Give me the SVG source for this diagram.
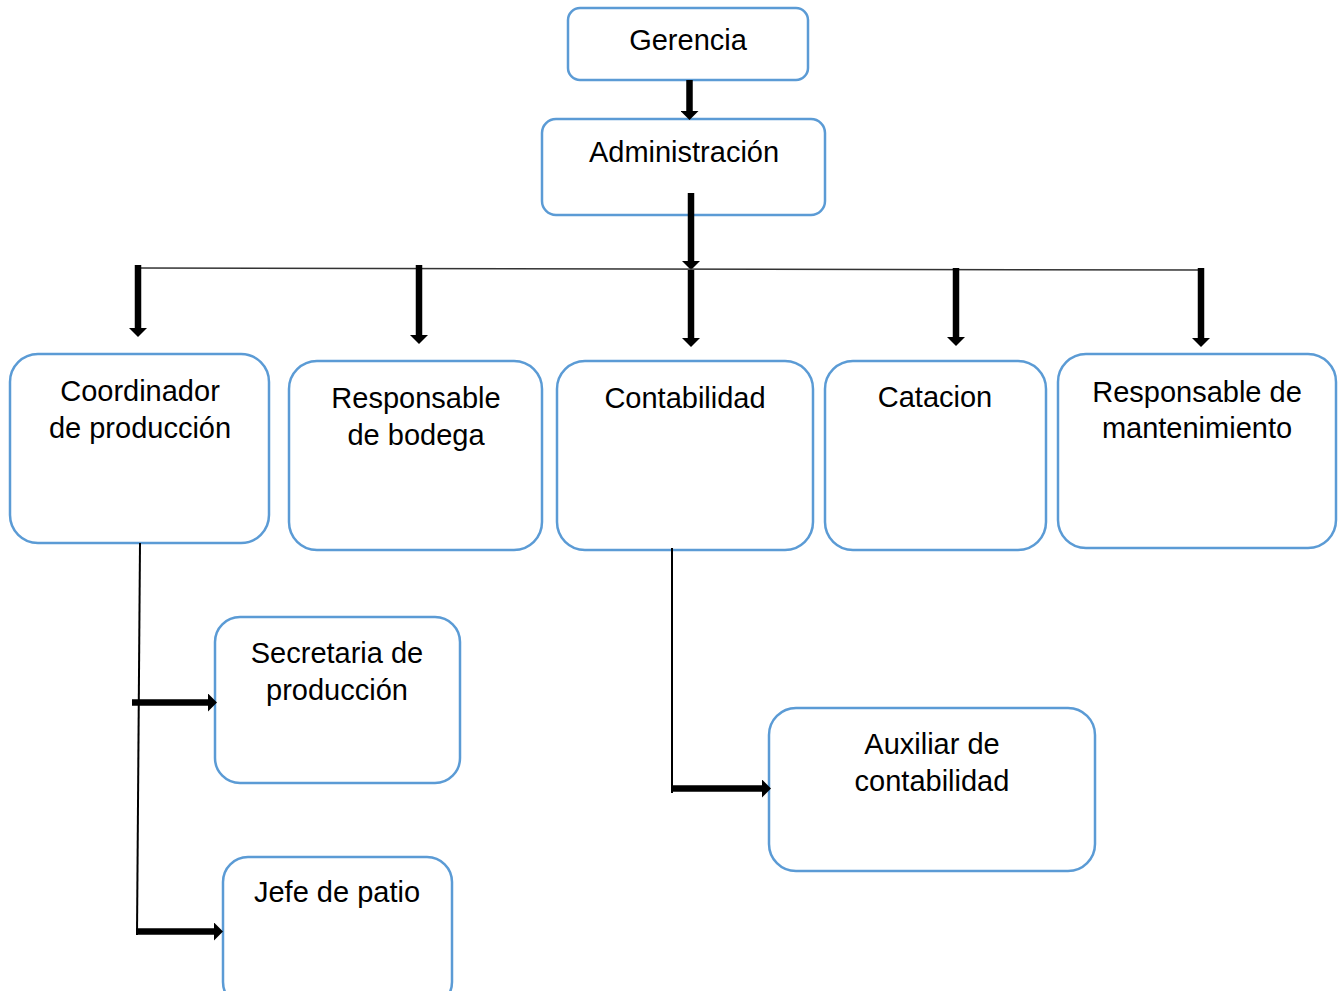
<svg xmlns="http://www.w3.org/2000/svg" width="1339" height="991" viewBox="0 0 1339 991">
<style>
.box{fill:#fff;stroke:#5B9BD5;stroke-width:2.5}
.lbl{font-family:"Liberation Sans",Arial,sans-serif;font-size:29px;fill:#000;text-anchor:middle}
.thick{stroke:#000;stroke-width:6.5;fill:none;marker-end:url(#ah)}
.thin{stroke:#000;stroke-width:2;fill:none}
.hline{stroke:#333;stroke-width:1.5;fill:none}
</style>
<defs>
<marker id="ah" markerUnits="userSpaceOnUse" viewBox="0 0 9 18" refX="1" refY="9" markerWidth="9" markerHeight="18" orient="auto">
<path d="M0,0 L9,9 L0,18 Z" fill="#000"/>
</marker>
</defs>
<rect width="1339" height="991" fill="#fff"/>
<g id="gerencia">
<rect class="box" x="568" y="8" width="240" height="72" rx="12"/>
<text class="lbl" x="688" y="50">Gerencia</text>
</g>
<g id="administracion">
<rect class="box" x="542" y="119" width="283" height="96" rx="14"/>
<text class="lbl" x="684" y="162">Administración</text>
</g>
<g id="coordinador">
<rect class="box" x="10" y="354" width="259" height="189" rx="28"/>
<text class="lbl" x="140" y="401">Coordinador</text>
<text class="lbl" x="140" y="438">de producción</text>
</g>
<g id="bodega">
<rect class="box" x="289" y="361" width="253" height="189" rx="28"/>
<text class="lbl" x="416" y="408">Responsable</text>
<text class="lbl" x="416" y="445">de bodega</text>
</g>
<g id="contabilidad">
<rect class="box" x="557" y="361" width="256" height="189" rx="28"/>
<text class="lbl" x="685" y="408">Contabilidad</text>
</g>
<g id="catacion">
<rect class="box" x="825" y="361" width="221" height="189" rx="28"/>
<text class="lbl" x="935" y="407">Catacion</text>
</g>
<g id="mantenimiento">
<rect class="box" x="1058" y="354" width="278" height="194" rx="28"/>
<text class="lbl" x="1197" y="402">Responsable de</text>
<text class="lbl" x="1197" y="438">mantenimiento</text>
</g>
<g id="secretaria">
<rect class="box" x="215" y="617" width="245" height="166" rx="25"/>
<text class="lbl" x="337" y="663">Secretaria de</text>
<text class="lbl" x="337" y="700">producción</text>
</g>
<g id="auxiliar">
<rect class="box" x="769" y="708" width="326" height="163" rx="27"/>
<text class="lbl" x="932" y="754">Auxiliar de</text>
<text class="lbl" x="932" y="791">contabilidad</text>
</g>
<g id="jefe">
<rect class="box" x="223" y="857" width="229" height="150" rx="25"/>
<text class="lbl" x="337" y="902">Jefe de patio</text>
</g>
<g id="connectors">
<line class="thick" x1="689.5" y1="80" x2="689.5" y2="112"/>
<line class="thick" x1="691" y1="193" x2="691" y2="262"/>
<line class="hline" x1="138" y1="268" x2="1201" y2="270"/>
<line class="thick" x1="691" y1="270" x2="691" y2="339"/>
<line class="thick" x1="138" y1="265" x2="138" y2="329"/>
<line class="thick" x1="419" y1="265" x2="419" y2="336"/>
<line class="thick" x1="956" y1="268" x2="956" y2="338"/>
<line class="thick" x1="1201" y1="268" x2="1201" y2="339"/>
<line class="thin" x1="140" y1="543" x2="137" y2="935"/>
<line class="thick" x1="132" y1="702.5" x2="209" y2="702.5"/>
<line class="thick" x1="136" y1="931.5" x2="215" y2="931.5"/>
<line class="thin" x1="672" y1="548" x2="672" y2="793"/>
<line class="thick" x1="672" y1="788.5" x2="763" y2="788.5"/>
</g>
</svg>
